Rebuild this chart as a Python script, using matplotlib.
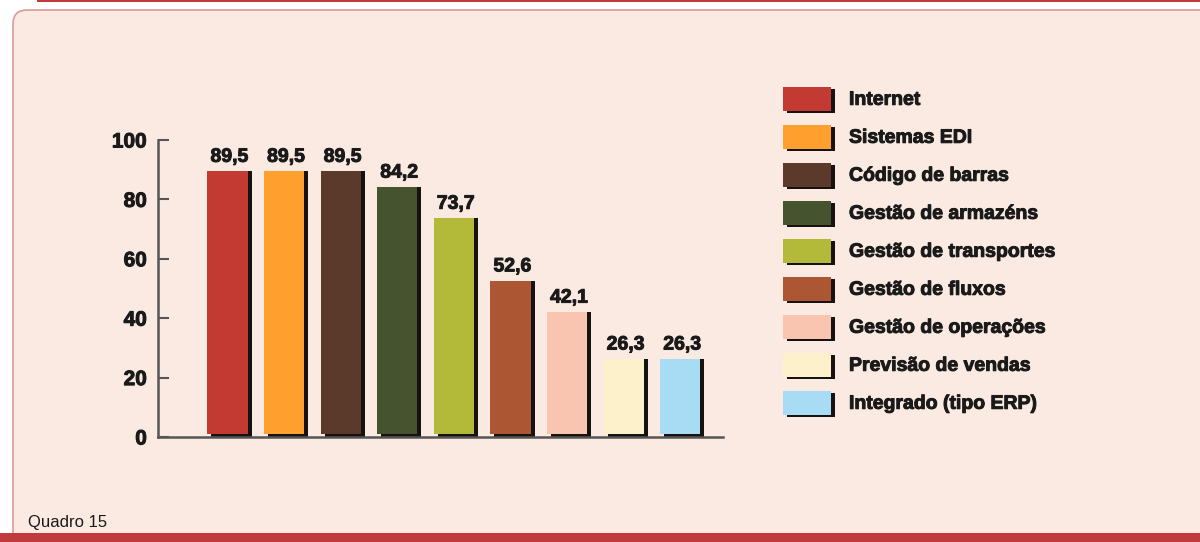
import matplotlib
matplotlib.use('Agg')
import matplotlib.pyplot as plt
import matplotlib.patheffects as pe
import numpy as np
from matplotlib.patches import Rectangle, FancyBboxPatch
from matplotlib.transforms import Affine2D

categories = ['Internet', 'Sistemas EDI', 'Código de barras', 'Gestão de armazéns',
              'Gestão de transportes', 'Gestão de fluxos', 'Gestão de operações',
              'Previsão de vendas', 'Integrado (tipo ERP)']
values = [89.5, 89.5, 89.5, 84.2, 73.7, 52.6, 42.1, 26.3, 26.3]
value_labels = ['89,5', '89,5', '89,5', '84,2', '73,7', '52,6', '42,1', '26,3', '26,3']
colors = ['#c23a32', '#ff9f2e', '#5b3a2b', '#45532f', '#b3ba39', '#ad5634',
          '#f9c5b1', '#fdf1cc', '#a8dcf5']
yticks = [0, 20, 40, 60, 80, 100]
caption = 'Quadro 15'

W, H = 1200, 542
plt.rcParams['font.family'] = ['Liberation Sans', 'DejaVu Sans']
fig = plt.figure(figsize=(W / 100, H / 100), dpi=100)
fig.patch.set_facecolor('white')
bold_fx = [pe.withStroke(linewidth=0.7, foreground='#1a1a1a')]

# pixel transform, origin top-left
T = Affine2D().scale(1, -1).translate(0, H) + Affine2D().scale(1 / W, 1 / H) + fig.transFigure

# page frame
fig.add_artist(FancyBboxPatch((13, 10), 1230, 540, boxstyle='round,pad=0,rounding_size=14',
                              transform=T, facecolor='#fbeae1', edgecolor='#dc9a96',
                              lw=1.2, zorder=0))
fig.add_artist(Rectangle((37, -1), 1200, 3, transform=T, facecolor='#c0393b', lw=0, zorder=1))
fig.add_artist(Rectangle((0, 533), 1200, 12, transform=T, facecolor='#c13a3e', lw=0, zorder=1))

# axes
ax = fig.add_axes([158 / W, (H - 437) / H, (723 - 158) / W, (437 - 140) / H])
ax.set_facecolor('none')
x = np.arange(len(values))
w = 0.71
dx = 0.07
ax.bar(x + dx, values, w, color='#151210', zorder=2)
ax.bar(x, [v - 1.0 for v in values], w, bottom=1.0, color=colors, zorder=3)
for xi, v, lab in zip(x, values, value_labels):
    ax.text(xi + dx / 2, v + 1.8, lab, ha='center', va='bottom', fontsize=14,
            fontweight='bold', color='#1a1a1a', path_effects=bold_fx)

ax.set_xlim(-1.228, 8.755)
ax.set_ylim(0, 100)
ax.set_xticks([])
ax.set_yticks(yticks)
ax.set_yticklabels([str(t) for t in yticks], fontsize=15, fontweight='bold', color='#1a1a1a')
for t in ax.get_yticklabels():
    t.set_path_effects(bold_fx)
ax.tick_params(axis='y', direction='in', length=8, width=1.5, color='#555555', pad=8)
for s in ['top', 'right']:
    ax.spines[s].set_visible(False)
for s in ['left', 'bottom']:
    ax.spines[s].set_color('#555555')
    ax.spines[s].set_linewidth(1.8)

# legend (manual)
for i, (cat, col) in enumerate(zip(categories, colors)):
    yc = 100.3 + 38 * i
    fig.add_artist(Rectangle((787, yc - 11), 48, 24, transform=T, facecolor='#151210', lw=0, zorder=2))
    fig.add_artist(Rectangle((783, yc - 13), 48, 24, transform=T, facecolor=col, lw=0, zorder=3))
    fig.text(849 / W, 1 - yc / H, cat, ha='left', va='center', fontsize=14,
             fontweight='bold', color='#1a1a1a', path_effects=bold_fx)

fig.text(28 / W, 1 - 522 / H, caption, ha='left', va='center', fontsize=12, color='#1a1a1a')

fig.savefig('out.png', dpi=100, facecolor=fig.get_facecolor())
